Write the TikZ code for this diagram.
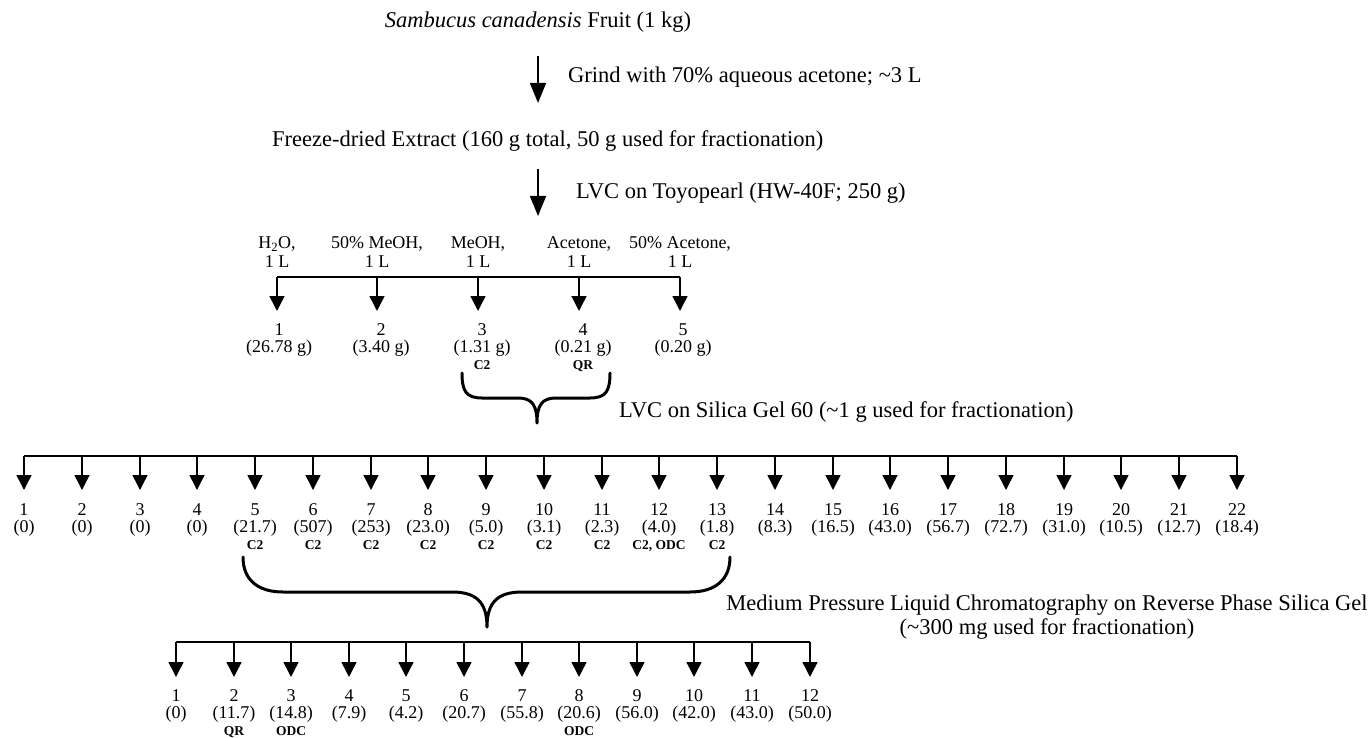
\documentclass[tikz,border=0pt]{standalone}
\usepackage{fontspec}
\setmainfont{Liberation Serif}
\usetikzlibrary{arrows.meta}
\begin{document}
\begin{tikzpicture}[x=1pt,y=-1pt,
  big/.style={font=\fontsize{22.5}{26}\selectfont, inner sep=0pt},
  small/.style={font=\fontsize{18}{18}\selectfont, inner sep=0pt},
  tagl/.style={font=\fontsize{13.5}{14}\selectfont\bfseries, inner sep=0pt},
  mainarrow/.style={line width=1.5pt, -{Triangle[width=16pt,length=20pt]}},
  fork/.style={line width=1.5pt, -{Triangle[width=15pt,length=15pt]}},
  barline/.style={line width=1.5pt},
  bracel/.style={line width=3pt, line cap=round, line join=round}]
\useasboundingbox (0,0) rectangle (1371,738);

% ---- top ----
\node[big, anchor=base] (title) at (538,28) {\textit{Sambucus canadensis} Fruit (1 kg)};
\node[big, anchor=base west] (extract) at (272,147) {Freeze-dried Extract (160 g total, 50 g used for fractionation)};
\coordinate (a1s) at (538,56);
\coordinate (a1e) at (538,103);
\draw[mainarrow] (a1s) -- (a1e);
\node[big, anchor=base west] (grind) at (568,83) {Grind with 70\% aqueous acetone; \textasciitilde3 L};
\coordinate (a2s) at (538,169);
\coordinate (a2e) at (538,216);
\draw[mainarrow] (a2s) -- (a2e);
\node[big, anchor=base west] (toyo) at (576,199) {LVC on Toyopearl (HW-40F; 250 g)};

% ---- row 1 ----
\coordinate (r1L) at (277,277);
\coordinate (r1R) at (680,277);
\draw[barline] (r1L) -- (r1R);
\foreach \i/\x/\lx/\sa/\sb/\v/\t in {
  1/277/279/{H\textsubscript{2}O,}/{1 L}/(26.78 g)/{},
  2/377/381/{50\% MeOH,}/{1 L}/(3.40 g)/{},
  3/478/482/{MeOH,}/{1 L}/(1.31 g)/C2,
  4/579/583/{Acetone,}/{1 L}/(0.21 g)/QR,
  5/680/683/{50\% Acetone,}/{1 L}/(0.20 g)/{}}{
  \node[small, anchor=base] (r1s\i) at (\x,249) {\sa};
  \node[small, anchor=base] (r1l\i) at (\x,267) {\sb};
  \coordinate (r1b\i) at (\x,277);
  \coordinate (r1t\i) at (\x,311);
  \draw[fork] (r1b\i) -- (r1t\i);
  \node[small, anchor=base] (r1n\i) at (\lx,335) {\i};
  \node[small, anchor=base] (r1v\i) at (\lx,352) {\v};
  \node[tagl, anchor=base] (r1g\i) at (\lx,369) {\t};
}

% brace 1
\draw[bracel] (462,373) .. controls (462,391) and (466,398) .. (482,398)
  -- (518,398) .. controls (532,398) and (537,405) .. (537,423)
  .. controls (537,405) and (542,398) .. (556,398)
  -- (590,398) .. controls (606,398) and (610,391) .. (610,373);
\coordinate (br1) at (537,423);
\node[big, anchor=base west] (silica) at (619,417) {LVC on Silica Gel 60 (\textasciitilde1 g used for fractionation)};

% ---- row 2 ----
\coordinate (r2L) at (24,456);
\coordinate (r2R) at (1237,456);
\draw[barline] (r2L) -- (r2R);
\foreach \i/\v/\t in {1/(0)/{},2/(0)/{},3/(0)/{},4/(0)/{},5/(21.7)/C2,6/(507)/C2,7/(253)/C2,
  8/(23.0)/C2,9/(5.0)/C2,10/(3.1)/C2,11/(2.3)/C2,12/(4.0)/{C2, ODC},13/(1.8)/C2,
  14/(8.3)/{},15/(16.5)/{},16/(43.0)/{},17/(56.7)/{},18/(72.7)/{},19/(31.0)/{},
  20/(10.5)/{},21/(12.7)/{},22/(18.4)/{}}{
  \pgfmathsetmacro{\x}{round(24+57.76*(\i-1))}
  \coordinate (r2b\i) at (\x,456);
  \coordinate (r2t\i) at (\x,490);
  \draw[fork] (r2b\i) -- (r2t\i);
  \node[small, anchor=base] (r2n\i) at (\x,515) {\i};
  \node[small, anchor=base] (r2v\i) at (\x,532) {\v};
  \node[tagl, anchor=base] (r2g\i) at (\x,549) {\t};
}

% brace 2
\draw[bracel] (243,557) .. controls (243,580) and (258,592) .. (283,592)
  -- (452,592) .. controls (476,592) and (487,602) .. (487,627)
  .. controls (487,602) and (498,592) .. (522,592)
  -- (690,592) .. controls (715,592) and (730,580) .. (730,557);
\coordinate (br2) at (487,627);
\node[big, anchor=base] (mplc) at (1047,610) {Medium Pressure Liquid Chromatography on Reverse Phase Silica Gel};
\node[big, anchor=base] (mplc2) at (1047,634) {(\textasciitilde300 mg used for fractionation)};

% ---- row 3 ----
\coordinate (r3L) at (176,642);
\coordinate (r3R) at (810,642);
\draw[barline] (r3L) -- (r3R);
\foreach \i/\v/\t in {1/(0)/{},2/(11.7)/QR,3/(14.8)/ODC,4/(7.9)/{},5/(4.2)/{},6/(20.7)/{},
  7/(55.8)/{},8/(20.6)/ODC,9/(56.0)/{},10/(42.0)/{},11/(43.0)/{},12/(50.0)/{}}{
  \pgfmathsetmacro{\x}{round(176+57.6*(\i-1))}
  \coordinate (r3b\i) at (\x,642);
  \coordinate (r3t\i) at (\x,677);
  \draw[fork] (r3b\i) -- (r3t\i);
  \node[small, anchor=base] (r3n\i) at (\x,701) {\i};
  \node[small, anchor=base] (r3v\i) at (\x,718) {\v};
  \node[tagl, anchor=base] (r3g\i) at (\x,735) {\t};
}
\end{tikzpicture}
\end{document}
